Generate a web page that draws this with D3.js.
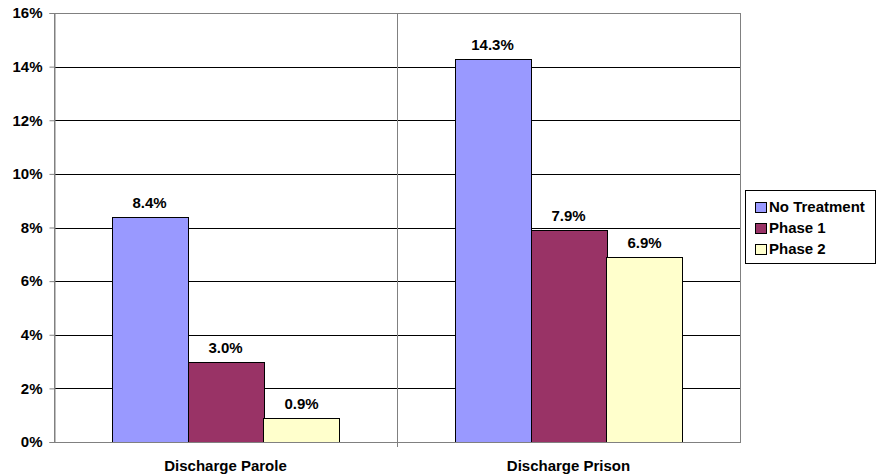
<!DOCTYPE html>
<html>
<head>
<meta charset="utf-8">
<script src="https://cdn.jsdelivr.net/npm/d3@7"></script>
<style>
  body { margin: 0; background: #fff; }
  text { font-family: "Liberation Sans", Arial, sans-serif; font-weight: bold; }
</style>
</head>
<body>
<svg id="chart" width="880" height="476"></svg>
<script>
var categories = ["Discharge Parole", "Discharge Prison"];
var seriesNames = ["No Treatment", "Phase 1", "Phase 2"];
var noTreatment = [8.4, 14.3];
var phase1 = [3.0, 7.9];
var phase2 = [0.9, 6.9];
var yTicks = [0, 2, 4, 6, 8, 10, 12, 14, 16];
var colors = ["#9999ff", "#993366", "#ffffcc"];

var series = [noTreatment, phase1, phase2];
var svg = d3.select("#chart");
var plotLeft = 54, plotRight = 740, plotTop = 13, plotBottom = 442;
var fs = 15;

var x0 = d3.scaleBand().domain(categories).range([plotLeft, plotRight]).paddingInner(0).paddingOuter(0);
var x1 = d3.scaleBand().domain(seriesNames).range([0, x0.bandwidth()]).paddingOuter(0.757).paddingInner(0);
var y = d3.scaleLinear().domain([0, 16]).range([plotBottom, plotTop]);

// gridlines
svg.append("g").selectAll("line")
    .data(yTicks.filter(function(d) { return d > 0 && d < 16; }))
    .enter().append("line")
    .attr("x1", plotLeft).attr("x2", plotRight)
    .attr("y1", function(d) { return Math.round(y(d)) + 0.5; })
    .attr("y2", function(d) { return Math.round(y(d)) + 0.5; })
    .attr("stroke", "#000").attr("stroke-width", 1);

// plot frame
svg.append("rect")
    .attr("x", plotLeft + 0.5).attr("y", plotTop + 0.5)
    .attr("width", plotRight - plotLeft).attr("height", plotBottom - plotTop)
    .attr("fill", "none").attr("stroke", "#808080").attr("stroke-width", 1);

// category divider
svg.append("line")
    .attr("x1", x0(categories[1]) + 0.5).attr("x2", x0(categories[1]) + 0.5)
    .attr("y1", plotTop).attr("y2", plotBottom + 5)
    .attr("stroke", "#808080");

// bars
var groups = svg.append("g").selectAll("g")
    .data(categories).enter().append("g")
    .attr("transform", function(d) { return "translate(" + x0(d) + ",0)"; });

groups.selectAll("rect")
    .data(function(c, i) { return seriesNames.map(function(s, j) { return {s: s, v: series[j][i], j: j}; }); })
    .enter().append("rect")
    .attr("x", function(d) { return Math.round(x1(d.s)) + 0.5; })
    .attr("y", function(d) { return Math.round(y(d.v)) + 0.5; })
    .attr("width", Math.round(x1.bandwidth()))
    .attr("height", function(d) { return plotBottom - Math.round(y(d.v)); })
    .attr("fill", function(d) { return colors[d.j]; })
    .attr("stroke", "#000").attr("stroke-width", 1);

groups.selectAll("text")
    .data(function(c, i) { return seriesNames.map(function(s, j) { return {s: s, v: series[j][i]}; }); })
    .enter().append("text")
    .attr("x", function(d) { return x1(d.s) + x1.bandwidth() / 2; })
    .attr("y", function(d) { return y(d.v) - 9; })
    .attr("text-anchor", "middle")
    .attr("font-size", fs)
    .text(function(d) { return d.v.toFixed(1) + "%"; });

// y axis
var yAxis = svg.append("g").attr("transform", "translate(" + (plotLeft + 0.5) + ",0)")
    .call(d3.axisLeft(y).tickValues(yTicks).tickSize(5).tickFormat(function(d) { return d + "%"; }));
yAxis.select(".domain").attr("stroke", "#808080");
yAxis.selectAll(".tick line").attr("stroke", "#808080");
yAxis.selectAll(".tick text").attr("font-size", fs).attr("font-family", "Liberation Sans, Arial, sans-serif")
    .attr("font-weight", "bold").attr("fill", "#000").attr("x", -12);

// x axis baseline
svg.append("line").attr("x1", plotLeft).attr("x2", plotRight + 1)
    .attr("y1", plotBottom + 0.5).attr("y2", plotBottom + 0.5).attr("stroke", "#808080");

svg.append("g").selectAll("text").data(categories).enter().append("text")
    .attr("x", function(d) { return x0(d) + x0.bandwidth() / 2; })
    .attr("y", 471)
    .attr("text-anchor", "middle")
    .attr("font-size", fs)
    .text(function(d) { return d; });

// legend
var legend = svg.append("g");
legend.append("rect").attr("x", 745.5).attr("y", 190.5).attr("width", 130).attr("height", 73)
    .attr("fill", "#fff").attr("stroke", "#000");
var items = legend.selectAll("g.item").data(seriesNames).enter().append("g")
    .attr("transform", function(d, i) { return "translate(755," + (211 + i * 21) + ")"; });
items.append("rect").attr("x", 0.5).attr("y", -8.5).attr("width", 11).attr("height", 10)
    .attr("fill", function(d, i) { return colors[i]; }).attr("stroke", "#000");
items.append("text").attr("x", 14).attr("y", 1).attr("font-size", fs).text(function(d) { return d; });
</script>
</body>
</html>
